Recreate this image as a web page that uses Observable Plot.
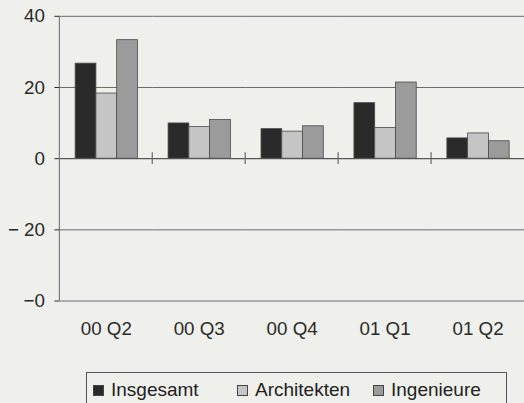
<!DOCTYPE html>
<html><head><meta charset="utf-8">
<script src="https://cdn.jsdelivr.net/npm/d3@7"></script>
<script src="https://cdn.jsdelivr.net/npm/@observablehq/plot@0.6"></script>
<style>
html,body{margin:0;padding:0;}
body{background:#efefec;width:524px;height:403px;overflow:hidden;position:relative;font-family:"Liberation Sans",Arial,sans-serif;color:#222;}
#chart{position:absolute;left:0;top:0;}
#legend{position:absolute;left:86px;top:372px;width:421px;height:40px;border:1px solid #555;box-sizing:border-box;}
.item{position:absolute;top:7px;font-size:19px;line-height:19px;white-space:nowrap;}
.sw{display:inline-block;width:11px;height:11px;border:1px solid #444;box-sizing:border-box;margin-right:7px;vertical-align:0px;}
</style></head><body>
<div id="chart"></div>
<div id="legend"></div>
<script>
const quarters = ["00 Q2", "00 Q3", "00 Q4", "01 Q1", "01 Q2"];
const series = ["Insgesamt", "Architekten", "Ingenieure"];
const insgesamt = [26.7, 9.9, 8.3, 15.6, 5.7];
const architekten = [18.3, 8.9, 7.6, 8.6, 7.1];
const ingenieure = [33.3, 10.9, 9.1, 21.4, 4.9];
const yTicks = [-40, -20, 0, 20, 40];
const yTickLabels = ["\u22120", "\u2212 20", "0", "20", "40"];
const colors = ["#2a2a2a", "#c5c5c5", "#9b9b9b"];
const legendLeft = [6, 150, 286];

const values = [insgesamt, architekten, ingenieure];
const data = [];
quarters.forEach((q, i) => series.forEach((s, j) => data.push({quarter: q, series: s, value: values[j][i]})));

const chart = Plot.plot({
  width: 530,
  height: 352,
  marginTop: 16,
  marginBottom: 48,
  marginLeft: 59,
  marginRight: 0,
  style: {background: "transparent", fontSize: "19px", fontFamily: "'Liberation Sans', Arial, sans-serif", color: "#2a2a2a"},
  fx: {domain: quarters, padding: 0, label: null, tickSize: 0, tickPadding: 21},
  x: {domain: series, axis: null, paddingInner: 0, paddingOuter: 0.7},
  y: {domain: [-40, 40], ticks: yTicks, tickFormat: d => yTickLabels[yTicks.indexOf(d)], tickSize: 5, tickPadding: 10, label: null},
  color: {domain: series, range: colors},
  marks: [
    Plot.ruleY(yTicks.filter(d => d !== 0), {stroke: "#6a6a6a", strokeWidth: 1}),
    Plot.barY(data, {fx: "quarter", x: "series", y: "value", fill: "series", stroke: "#4a4a4a", strokeWidth: 0.8}),
    Plot.ruleY([0], {stroke: "#555", strokeWidth: 1.2})
  ]
});
document.getElementById("chart").appendChild(chart);

// axis line and category separators derived from the plot's scales
const fx = chart.scale("fx");
const y = chart.scale("y");
const svg = d3.select(chart);
const x0 = fx.apply(quarters[0]);
svg.append("line").attr("x1", x0).attr("x2", x0).attr("y1", y.apply(40)).attr("y2", y.apply(-40)).attr("stroke", "#666").attr("stroke-width", 1);
quarters.slice(1).forEach(q => {
  const xs = fx.apply(q);
  svg.append("line").attr("x1", xs).attr("x2", xs).attr("y1", y.apply(0) - 6).attr("y2", y.apply(0) + 6).attr("stroke", "#666").attr("stroke-width", 1.2);
});

const legend = document.getElementById("legend");
series.forEach((s, j) => {
  const it = document.createElement("div");
  it.className = "item";
  it.style.left = legendLeft[j] + "px";
  it.innerHTML = `<span class="sw" style="background:${colors[j]}"></span>${s}`;
  legend.appendChild(it);
});
</script>
</body></html>
